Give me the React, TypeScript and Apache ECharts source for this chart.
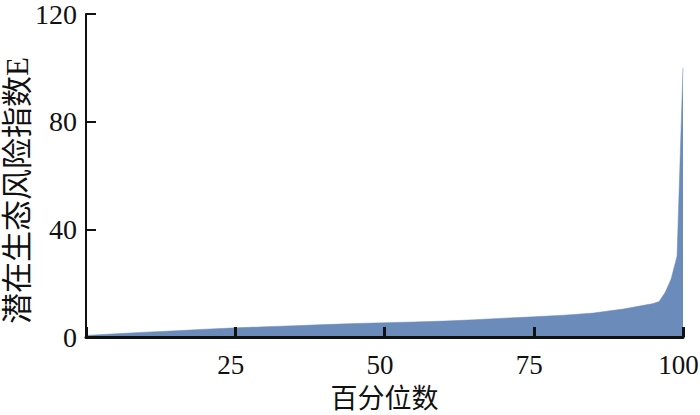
import React, { useEffect, useRef } from "react";
import * as echarts from "echarts";

const percentiles = [0, 5, 10, 15, 20, 25, 30, 35, 40, 45, 50, 55, 60, 65, 70, 75, 80, 85, 90, 95, 96, 97, 98, 99, 100];
const riskValues = [0.6, 1.2, 1.8, 2.3, 2.9, 3.4, 3.8, 4.2, 4.6, 5.0, 5.3, 5.6, 5.9, 6.4, 7.0, 7.5, 8.1, 8.9, 10.4, 12.4, 13.2, 16.5, 21.5, 30, 100];
const xTicks = [25, 50, 75, 100];
const xName = "百分位数";
const yName = "潜在生态风险指数E";

const FONT = "Liberation Serif, Times New Roman, Noto Sans CJK SC, serif";

export default function App() {
  const ref = useRef<HTMLDivElement>(null);
  useEffect(() => {
    if (!ref.current) return;
    const chart = echarts.init(ref.current, undefined, { renderer: "svg" });
    chart.setOption({
      animation: false,
      backgroundColor: "#ffffff",
      grid: { left: 86, right: 17, top: 14, bottom: 78, outerBoundsMode: "none", containLabel: false },
      xAxis: {
        type: "value",
        min: 0,
        max: 100,
        interval: 25,
        z: 5,
        name: xName,
        nameLocation: "middle",
        nameGap: 48,
        nameMoveOverlap: false,
        nameTextStyle: { fontFamily: FONT, fontSize: 27, color: "#111" },
        axisLine: { show: true, lineStyle: { color: "#111", width: 3 } },
        axisTick: { show: true, inside: true, length: 10, lineStyle: { color: "#111", width: 3 } },
        axisLabel: {
          fontFamily: FONT,
          fontSize: 27,
          color: "#111",
          margin: 14,
          padding: [0, 9, 0, 0],
          formatter: (v: number) => (xTicks.includes(v) ? String(v) : ""),
        },
        splitLine: { show: false },
      },
      yAxis: {
        type: "value",
        min: 0,
        max: 120,
        interval: 40,
        z: 5,
        name: yName,
        nameLocation: "middle",
        nameGap: 53,
        nameRotate: 90,
        nameMoveOverlap: false,
        nameTextStyle: { fontFamily: FONT, fontSize: 31, color: "#111", padding: [0, 30, 0, 0] },
        axisLine: { show: true, lineStyle: { color: "#111", width: 2 } },
        axisTick: { show: true, inside: true, length: 10, lineStyle: { color: "#111", width: 2 } },
        axisLabel: { fontFamily: FONT, fontSize: 28, color: "#111", margin: 9 },
        splitLine: { show: false },
      },
      series: [
        {
          type: "line",
          data: percentiles.map((p, i) => [p, riskValues[i]]),
          showSymbol: false,
          lineStyle: { width: 0.5, color: "#6b8cba" },
          areaStyle: { color: "#6b8cba", opacity: 1 },
          z: 2,
        },
      ],
    });
    return () => chart.dispose();
  }, []);
  return <div ref={ref} style={{ width: 700, height: 415, position: "absolute", left: 0, top: 0 }} />;
}
